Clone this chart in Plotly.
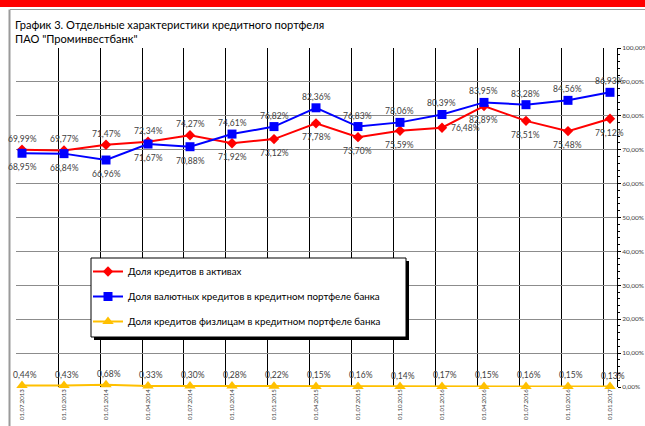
import plotly.graph_objects as go

dates = ["01.07.2013", "01.10.2013", "01.01.2014", "01.04.2014", "01.07.2014",
         "01.10.2014", "01.01.2015", "01.04.2015", "01.07.2015", "01.10.2015",
         "01.01.2016", "01.04.2016", "01.07.2016", "01.10.2016", "01.01.2017"]
loans_in_assets = [69.99, 69.77, 71.47, 72.34, 74.27, 71.92, 73.12, 77.78, 73.70,
                   75.59, 76.48, 82.89, 78.51, 75.48, 79.12]
fx_loans = [68.95, 68.84, 66.96, 71.67, 70.88, 74.61, 76.82, 82.36, 76.83,
            78.06, 80.39, 83.95, 83.28, 84.56, 86.93]
retail_loans = [0.44, 0.43, 0.68, 0.33, 0.30, 0.28, 0.22, 0.15, 0.16, 0.14,
                0.17, 0.15, 0.16, 0.15, 0.13]
names = ["Доля кредитов в активах",
         "Доля валютных кредитов в кредитном портфеле банка",
         "Доля кредитов физлицам в кредитном портфеле банка"]

# label placement (style only)
red_pos = ["above"] * 5 + ["below"] * 5 + ["right"] + ["below"] * 4
blue_pos = ["below"] * 5 + ["above"] * 10
yellow_pos = ["above"] * 15

idx = list(range(len(dates)))

def fmt(v):
    return f"{v:.2f}".replace(".", ",") + "%"

W, H = 645, 426
L, R, T, B = 16, 617, 48, 387  # plot area pixel bounds

def px_x(p):
    return (p - L) / (R - L)

def px_y(p):
    return (B - p) / (B - T)

FONT = "Lato"
LABEL_COLOR = "#404040"
SHIFT = {"above": (0, 11), "below": (0, -14), "right": (24, 0)}

fig = go.Figure()
series = [
    (loans_in_assets, "#FF0000", "diamond", 8, red_pos, names[0], 0),
    (fx_loans, "#0000FF", "square", 9, blue_pos, names[1], 0),
    (retail_loans, "#FFC000", "triangle-up", 10, yellow_pos, names[2], 3),
]
annotations = []
for vals, color, sym, size, pos, name, dx in series:
    fig.add_trace(go.Scatter(
        x=idx, y=[v / 100 for v in vals], name=name, legendgroup=name,
        mode="lines+markers",
        line=dict(color=color, width=2),
        marker=dict(color=color, symbol=sym, size=size),
        cliponaxis=False,
    ))
    for i, v, p in zip(idx, vals, pos):
        xs, ys = SHIFT[p]
        annotations.append(dict(
            x=i, y=v / 100, xref="x", yref="y", text=fmt(v), showarrow=False,
            xshift=xs + dx, yshift=ys,
            font=dict(family=FONT, size=8.5, color=LABEL_COLOR)))

annotations.append(dict(
    text="График 3. Отдельные характеристики кредитного портфеля<br>ПАО \"Проминвестбанк\"",
    xref="paper", yref="paper", x=px_x(13), y=px_y(16), xanchor="left", yanchor="top",
    align="left", showarrow=False, font=dict(family=FONT, size=11.1, color="black")))

shapes = [
    # red band at top
    dict(type="rect", xref="paper", yref="paper", x0=px_x(0), x1=px_x(W),
         y0=px_y(7), y1=px_y(0), fillcolor="#FF0000", line=dict(width=0), layer="below"),
    # outer frame
    dict(type="line", xref="paper", yref="paper", x0=px_x(10), x1=px_x(W),
         y0=px_y(9.5), y1=px_y(9.5), line=dict(color="#9a9a9a", width=1)),
    dict(type="line", xref="paper", yref="paper", x0=px_x(9.5), x1=px_x(9.5),
         y0=px_y(9.5), y1=px_y(H), line=dict(color="#9a9a9a", width=2)),
    # legend shadow and box
    dict(type="rect", xref="paper", yref="paper", x0=px_x(94), x1=px_x(409),
         y0=px_y(340), y1=px_y(261), fillcolor="black", line=dict(width=0)),
    dict(type="rect", xref="paper", yref="paper", x0=px_x(91), x1=px_x(406),
         y0=px_y(337), y1=px_y(258), fillcolor="white", line=dict(color="black", width=1)),
]

fig.update_layout(
    width=W, height=H,
    margin=dict(l=L, r=W - R, t=T, b=H - B, autoexpand=False),
    paper_bgcolor="white", plot_bgcolor="white",
    separators=", ",
    font=dict(family=FONT, color="black"),
    shapes=shapes,
    annotations=annotations,
    showlegend=True,
    legend=dict(x=px_x(88), y=px_y(257), xanchor="left", yanchor="top",
                bgcolor="rgba(0,0,0,0)", borderwidth=0,
                font=dict(family=FONT, size=9.8, color="black"),
                tracegroupgap=6, itemwidth=30),
    xaxis=dict(range=[-0.143, 14.167], tickvals=idx, ticktext=dates,
               tickangle=-90, tickfont=dict(family=FONT, size=6, color=LABEL_COLOR),
               showgrid=False, zeroline=False, showline=False, ticks="",
               minor=dict(tick0=-0.143, dtick=1, showgrid=True,
                          gridcolor="black", gridwidth=1)),
    yaxis=dict(range=[0, 1], side="right", tickformat=".2%", dtick=0.1,
               tickfont=dict(family=FONT, size=6.5, color=LABEL_COLOR),
               showgrid=True, gridcolor="#8c8c8c", gridwidth=1,
               zeroline=False, showline=True, linecolor="black", linewidth=1,
               ticks="outside", ticklen=3, tickcolor="black",
               minor=dict(dtick=0.02, ticks="outside", ticklen=2, tickcolor="black")),
)

fig.write_html("out.html", config={"displayModeBar": False},
               post_script="document.body.style.margin='0px';")
